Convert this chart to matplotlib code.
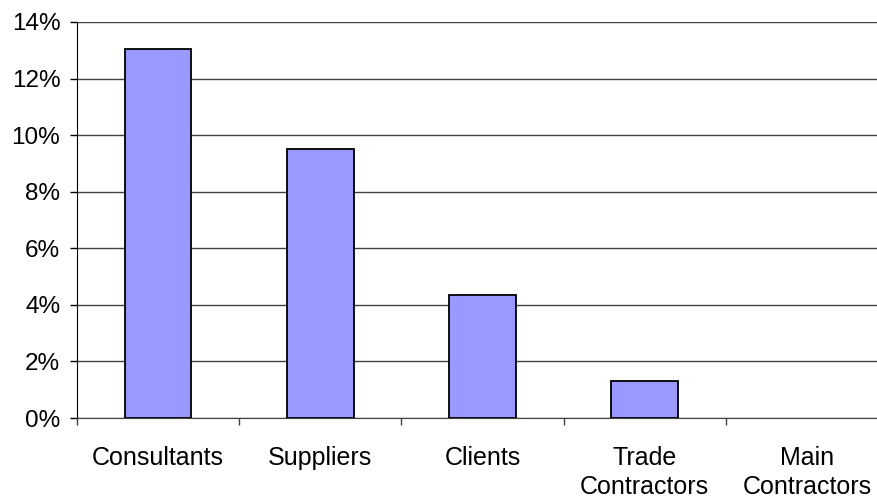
import matplotlib.pyplot as plt
from matplotlib.ticker import FixedLocator, FuncFormatter

categories = ["Consultants", "Suppliers", "Clients", "Trade\nContractors", "Main\nContractors"]
shares = [13.05, 9.52, 4.35, 1.31, 0.0]
y_ticks = [0, 2, 4, 6, 8, 10, 12, 14]

plt.rcParams["font.family"] = ["Liberation Sans", "DejaVu Sans"]

W, H = 878, 498
fig = plt.figure(figsize=(W / 100, H / 100), dpi=100)
# plot area runs a little past the right edge of the image
ax = fig.add_axes([77 / W, 80 / H, 811 / W, 396 / H])

x = range(len(categories))
bars = ax.bar(x, shares, width=0.41, color="#9999FF", edgecolor="black", linewidth=1.3, zorder=3)
for b, v in zip(bars, shares):
    if v == 0:
        b.set_visible(False)

ax.set_xlim(-0.5, len(categories) - 0.5)
ax.set_ylim(0, 14)
ax.yaxis.set_major_locator(FixedLocator(y_ticks))
ax.yaxis.set_major_formatter(FuncFormatter(lambda v, _: f"{v:.0f}%"))
ax.grid(axis="y", color="#404040", linewidth=1.0, zorder=0)

# category labels centred between the boundary tick marks
ax.set_xticks(list(x))
ax.set_xticklabels(categories, fontsize=18, linespacing=1.28)
ax.tick_params(axis="x", length=0, pad=20)
ax.set_xticks([i - 0.5 for i in range(len(categories) + 1)], minor=True)
ax.tick_params(axis="x", which="minor", length=5, width=1, color="#404040")
ax.tick_params(axis="y", length=5, width=1, pad=7, labelsize=17.5, direction="out")

for side in ("top", "right"):
    ax.spines[side].set_visible(False)
ax.spines["left"].set_color("black")
ax.spines["bottom"].set_color("#404040")

fig.savefig("out.png", dpi=100, facecolor="white")
